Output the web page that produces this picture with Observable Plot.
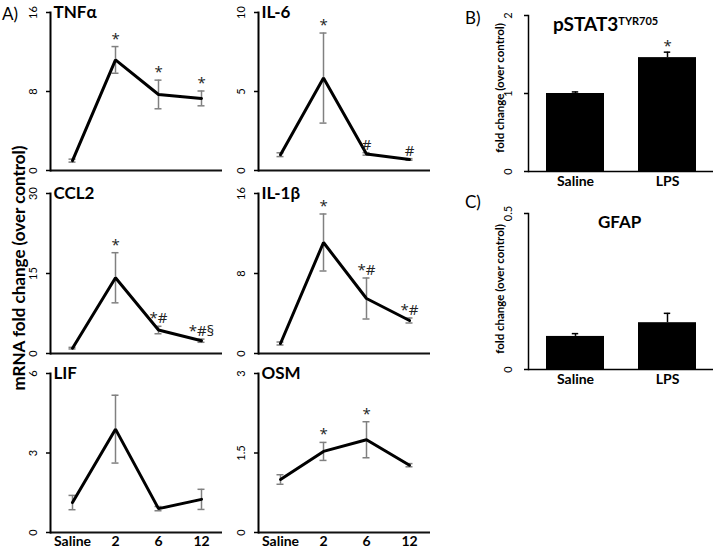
<!DOCTYPE html>
<html>
<head>
<meta charset="utf-8">
<script src="https://cdn.jsdelivr.net/npm/d3@7"></script>
<script src="https://cdn.jsdelivr.net/npm/@observablehq/plot@0.6"></script>
<style>
  html, body { margin: 0; padding: 0; background: white; }
  #fig { position: relative; width: 716px; height: 549px; overflow: hidden; font-family: Lato, "Open Sans", sans-serif; color: black; }
  #fig svg { position: absolute; }
  .lbl { position: absolute; white-space: nowrap; line-height: 1; }
  .rot { transform: translate(-50%, -50%) rotate(-90deg); }
</style>
</head>
<body>
<div id="fig"></div>
<script>
// ---------- data ----------
const timepoints = ["Saline", "2", "6", "12"];

const tnfMean = [1.0, 11.2, 7.7, 7.3];
const tnfSem  = [0.15, 1.35, 1.45, 0.75];
const tnfSig  = ["", "*", "*", "*"];

const il6Mean = [1.0, 5.85, 1.05, 0.7];
const il6Sem  = [0.12, 2.85, 0.08, 0.05];
const il6Sig  = ["", "*", "#", "#"];

const ccl2Mean = [1.0, 14.2, 4.4, 2.4];
const ccl2Sem  = [0.15, 4.7, 0.7, 0.3];
const ccl2Sig  = ["", "*", "*#", "*#§"];

const il1bMean = [1.0, 11.1, 5.5, 3.3];
const il1bSem  = [0.15, 2.85, 2.05, 0.25];
const il1bSig  = ["", "*", "*#", "*#"];

const lifMean = [1.13, 3.9, 0.9, 1.25];
const lifSem  = [0.27, 1.28, 0.08, 0.38];
const lifSig  = ["", "", "", ""];

const osmMean = [1.0, 1.53, 1.75, 1.27];
const osmSem  = [0.09, 0.17, 0.34, 0.03];
const osmSig  = ["", "*", "*", ""];

const groups = ["Saline", "LPS"];
const pstatMean = [1.0, 1.46];
const pstatSem  = [0.02, 0.07];
const pstatSig  = ["", "*"];

const gfapMean = [0.106, 0.15];
const gfapSem  = [0.009, 0.03];
const gfapSig  = ["", ""];

// ---------- drawing ----------
const fig = document.getElementById("fig");
const FONT = "Lato, 'Open Sans', sans-serif";
const SIGFONT = "'Open Sans', sans-serif";
const fmt = d => String(d);

function linePanel({title, mean, sem, sig, yMax, ticks, left, top, innerH, showX}) {
  const data = timepoints.map((t, i) => ({t, m: mean[i], lo: mean[i] - sem[i], hi: mean[i] + sem[i], s: sig[i]}));
  const mb = showX ? 17 : 3;
  const marks = [
    Plot.ruleX(data, {x: "t", y1: "lo", y2: "hi", stroke: "#808080", strokeWidth: 1.5}),
    Plot.ruleY(data, {x1: "t", x2: "t", y: "lo", stroke: "#808080", strokeWidth: 1.5, insetLeft: -3.5, insetRight: -3.5}),
    Plot.ruleY(data, {x1: "t", x2: "t", y: "hi", stroke: "#808080", strokeWidth: 1.5, insetLeft: -3.5, insetRight: -3.5}),
    Plot.line(data, {x: "t", y: "m", stroke: "black", strokeWidth: 3, strokeLinejoin: "miter"}),
    Plot.text(data.filter(d => d.s), {x: "t", y: "hi", text: "s", lineAnchor: "bottom", dy: -3, fontSize: 15, fontFamily: SIGFONT, fill: "#222"}),
    Plot.axisY({ticks, tickFormat: fmt, tickSize: 4, tickRotate: -90, tickPadding: 10, fontSize: 11, label: null, strokeWidth: 1.5}),
    Plot.ruleY([0], {stroke: "#111", strokeWidth: 2}),
    Plot.frame({anchor: "left", stroke: "black", strokeWidth: 2}),
    Plot.text([title], {frameAnchor: "top-left", lineAnchor: "middle", textAnchor: "start", dx: 3, fontSize: 17, fontWeight: "bold"})
  ];
  if (showX) marks.push(Plot.axisX({tickSize: 0, tickPadding: 4, fontSize: 14, fontWeight: "bold", label: null}));
  const p = Plot.plot({
    width: 225, height: 12 + innerH + mb,
    marginTop: 12, marginBottom: mb, marginLeft: 50, marginRight: 3,
    style: {background: "transparent", overflow: "visible", fontFamily: FONT},
    x: {type: "point", domain: timepoints, padding: 0.5, axis: showX ? undefined : null},
    y: {domain: [0, yMax]},
    marks
  });
  p.style.left = left + "px";
  p.style.top = top + "px";
  fig.appendChild(p);
}

function barPanel({mean, sem, sig, yMax, ticks, top, marginTop, innerH}) {
  const data = groups.map((g, i) => ({g, v: mean[i], hi: mean[i] + sem[i], s: sig[i]}));
  const width = 246, ml = 58, mr = 3;
  const pi = 0.37, po = 0.18;
  const step = (width - ml - mr) / (groups.length - pi + 2 * po);
  const bw = step * (1 - pi);
  const capIn = (bw - 7) / 2;
  const p = Plot.plot({
    width, height: marginTop + innerH + 20,
    marginTop, marginBottom: 20, marginLeft: ml, marginRight: mr,
    style: {background: "transparent", overflow: "visible", fontFamily: FONT},
    x: {type: "band", domain: groups, paddingInner: pi, paddingOuter: po},
    y: {domain: [0, yMax]},
    marks: [
      Plot.barY(data, {x: "g", y: "v", fill: "black"}),
      Plot.ruleX(data, {x: "g", y1: "v", y2: "hi", stroke: "black", strokeWidth: 1.5}),
      Plot.tickY(data, {x: "g", y: "hi", stroke: "black", strokeWidth: 1.5, insetLeft: capIn, insetRight: capIn}),
      Plot.text(data.filter(d => d.s), {x: "g", y: "hi", text: "s", lineAnchor: "bottom", dy: -1, fontSize: 15, fontFamily: SIGFONT, fill: "#222"}),
      Plot.axisY({ticks, tickFormat: fmt, tickSize: 4, tickRotate: -90, tickPadding: 13, fontSize: 11, label: null, strokeWidth: 1.5}),
      Plot.axisX({tickSize: 0, tickPadding: 5, fontSize: 14, fontWeight: "bold", label: null}),
      Plot.ruleY([0], {stroke: "black", strokeWidth: 1.5}),
      Plot.frame({anchor: "left", stroke: "black", strokeWidth: 1.5})
    ]
  });
  p.style.left = "470px";
  p.style.top = top + "px";
  fig.appendChild(p);
}

linePanel({title: "TNFα", mean: tnfMean, sem: tnfSem, sig: tnfSig, yMax: 16, ticks: [0, 8, 16], left: 0, top: 0, innerH: 158, showX: false});
linePanel({title: "IL-6", mean: il6Mean, sem: il6Sem, sig: il6Sig, yMax: 10, ticks: [0, 5, 10], left: 208, top: 0, innerH: 158, showX: false});
linePanel({title: "CCL2", mean: ccl2Mean, sem: ccl2Sem, sig: ccl2Sig, yMax: 30, ticks: [0, 15, 30], left: 0, top: 181, innerH: 160, showX: false});
linePanel({title: "IL-1β", mean: il1bMean, sem: il1bSem, sig: il1bSig, yMax: 16, ticks: [0, 8, 16], left: 208, top: 181, innerH: 160, showX: false});
linePanel({title: "LIF", mean: lifMean, sem: lifSem, sig: lifSig, yMax: 6, ticks: [0, 3, 6], left: 0, top: 361, innerH: 159, showX: true});
linePanel({title: "OSM", mean: osmMean, sem: osmSem, sig: osmSig, yMax: 3, ticks: [0, 1.5, 3], left: 208, top: 361, innerH: 159, showX: true});

barPanel({mean: pstatMean, sem: pstatSem, sig: pstatSig, yMax: 2, ticks: [0, 1, 2], top: 0, marginTop: 15, innerH: 156});
barPanel({mean: gfapMean, sem: gfapSem, sig: gfapSig, yMax: 0.5, ticks: [0, 0.5], top: 200, marginTop: 13, innerH: 156});

// ---------- html text ----------
function addLabel(html, css, cls) {
  const d = document.createElement("div");
  d.className = "lbl" + (cls ? " " + cls : "");
  d.innerHTML = html;
  Object.assign(d.style, css);
  fig.appendChild(d);
}
addLabel("A)", {left: "2px", top: "5px", fontSize: "17px"});
addLabel("B)", {left: "465px", top: "9px", fontSize: "17px"});
addLabel("C)", {left: "465px", top: "193px", fontSize: "17px"});
addLabel("mRNA fold change (over control)", {left: "18px", top: "268px", fontSize: "17px", fontWeight: "bold"}, "rot");
addLabel("fold change (over control)", {left: "500px", top: "88px", fontSize: "11.5px", fontWeight: "bold"}, "rot");
addLabel("fold change (over control)", {left: "500px", top: "289px", fontSize: "11.5px", fontWeight: "bold"}, "rot");
addLabel("pSTAT3<sup style='font-size:11px;vertical-align:6px'>TYR705</sup>", {left: "553px", top: "14px", fontSize: "19px", fontWeight: "bold"});
addLabel("GFAP", {left: "598px", top: "213px", fontSize: "17px", fontWeight: "bold"});
</script>
</body>
</html>
